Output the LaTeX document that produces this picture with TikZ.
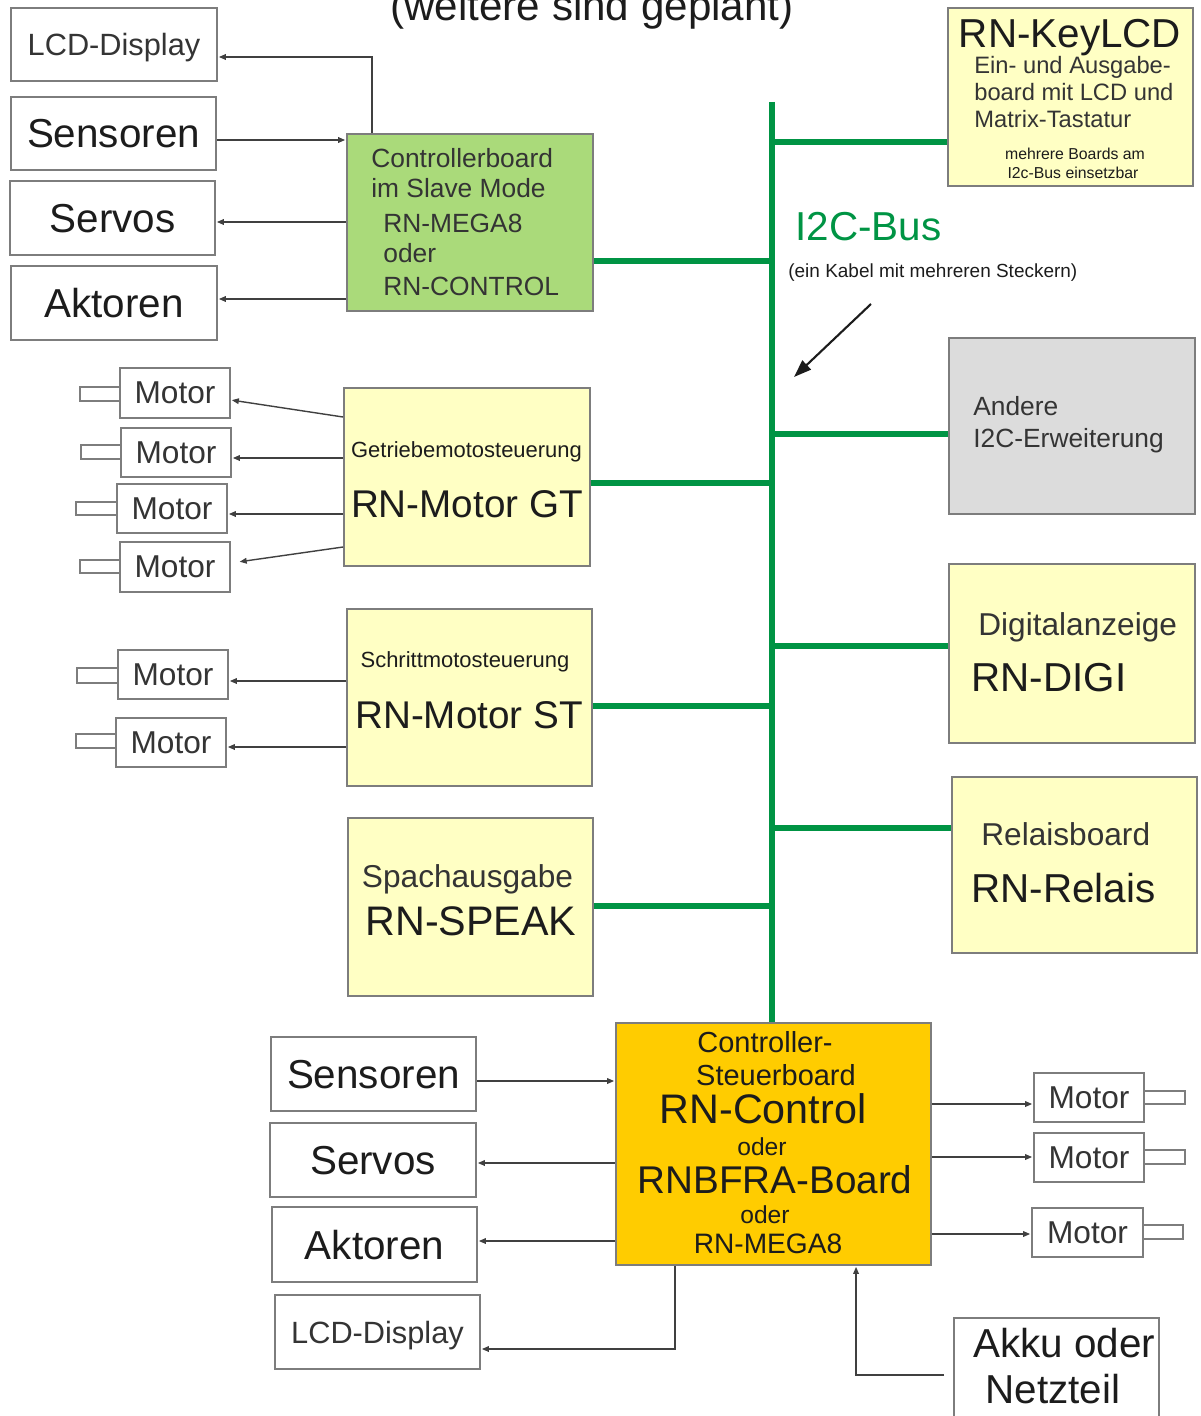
\documentclass[tikz,border=0pt]{standalone}
\usepackage{fontspec}
\setmainfont{Liberation Sans}
\usetikzlibrary{arrows.meta,calc}
\definecolor{busgreen}{RGB}{0,148,68}
\definecolor{paleyellow}{RGB}{255,255,196}
\definecolor{slavegreen}{RGB}{170,218,122}
\definecolor{panelgray}{RGB}{220,220,220}
\definecolor{ctrlyellow}{RGB}{255,204,0}
\definecolor{edgegray}{RGB}{125,125,125}
\definecolor{wiregray}{RGB}{64,64,64}
\definecolor{inkdark}{RGB}{28,28,28}
\definecolor{inksoft}{RGB}{52,52,52}
\newcommand{\fsz}[1]{\fontsize{#1}{#1}\selectfont}
\newcommand{\rbox}[7][]{\node[bx,#1,minimum width={((#4)-(#2))*0.02cm},minimum height={((#5)-(#3))*0.02cm}] (#6) at ({((#2)+(#4))/2},{((#3)+(#5))/2}) {#7};}
\begin{document}
\begin{tikzpicture}[x=0.02cm,y=-0.02cm,
  bx/.style={draw=edgegray,line width=1.1pt,inner sep=0pt,fill=white,text=inkdark,text depth=0pt},
  mot/.style={font=\fsz{18},text=inksoft},
  word/.style={font=\fsz{23}},
  busline/.style={busgreen,line width=3.2pt},
  wire/.style={wiregray,line width=0.8pt,shorten >=0.5pt,-{Triangle[length=4pt,width=3.2pt]}},
  lbl/.style={inner sep=0pt,text=inkdark},
  lblw/.style={lbl,anchor=base west},
  lblc/.style={lbl,anchor=base}]
\useasboundingbox (0,0) rectangle (1200,1416);

% title (cut off at the top)
\node[lblc,font=\fsz{24}] (title) at (592,21) {(weitere sind geplant)};

% ---- top left: slave controller ----
\rbox[font=\fsz{17.5},text=inksoft]{11}{8}{217}{81}{lcdA}{LCD-Display}
\rbox[word]{11}{97}{216}{170}{sensA}{Sensoren}
\rbox[word]{10}{181}{215}{255}{servA}{Servos}
\rbox[word]{11}{266}{217}{340}{aktA}{Aktoren}
\rbox[fill=slavegreen]{347}{134}{593}{311}{slave}{}
\node[lblw,font=\fsz{15},text=inksoft] (sl1) at (371,167) {Controllerboard};
\node[lblw,font=\fsz{15},text=inksoft] (sl2) at (371,197) {im Slave Mode};
\node[lblw,font=\fsz{15},text=inksoft] (sl3) at (383,232) {RN-MEGA8};
\node[lblw,font=\fsz{15},text=inksoft] (sl4) at (383,262) {oder};
\node[lblw,font=\fsz{15},text=inksoft] (sl5) at (383,295) {RN-CONTROL};

% ---- right column ----
\rbox[fill=paleyellow]{948}{8}{1193}{186}{keylcd}{}
\node[lblc,font=\fsz{23}] (kl0) at (1070,48) {RN-KeyLCD};
\node[lblw,font=\fsz{13.5},text=inksoft] (kl1) at (974,74) {Ein- und Ausgabe-};
\node[lblw,font=\fsz{13.5},text=inksoft] (kl2) at (974,101) {board mit LCD und};
\node[lblw,font=\fsz{13.5},text=inksoft] (kl3) at (974,128) {Matrix-Tastatur};
\node[lblc,font=\fsz{9}] (kl4) at (1075,159) {mehrere Boards am};
\node[lblc,font=\fsz{9}] (kl5) at (1073,178) {I2c-Bus einsetzbar};

\node[lblw,font=\fsz{23},text=busgreen] (buslabel) at (795,240) {I2C-Bus};
\node[lblw,font=\fsz{10.8}] (busnote) at (788,277) {(ein Kabel mit mehreren Steckern)};
\coordinate (ptrtail) at (871,304);
\coordinate (ptrhead) at (794,377);

\rbox[fill=panelgray]{949}{338}{1195}{514}{andere}{}
\node[lblw,font=\fsz{15},text=inksoft] (an1) at (973,415) {Andere};
\node[lblw,font=\fsz{15},text=inksoft] (an2) at (973,447) {I2C-Erweiterung};

\rbox[fill=paleyellow]{949}{564}{1195}{743}{digi}{}
\node[lblw,font=\fsz{18},text=inksoft] (dg1) at (978,635) {Digitalanzeige};
\node[lblw,font=\fsz{23}] (dg2) at (971,691) {RN-DIGI};

\rbox[fill=paleyellow]{952}{777}{1197}{953}{relais}{}
\node[lblw,font=\fsz{18},text=inksoft] (rl1) at (981,845) {Relaisboard};
\node[lblw,font=\fsz{23}] (rl2) at (971,902) {RN-Relais};

% ---- middle column ----
\rbox[fill=paleyellow]{344}{388}{590}{566}{gt}{}
\node[lblc,font=\fsz{12.5}] (gt1) at (466.5,457) {Getriebemotosteuerung};
\node[lblc,font=\fsz{22}] (gt2) at (467,517) {RN-Motor GT};

\rbox[fill=paleyellow]{347}{609}{592}{786}{st}{}
\node[lblc,font=\fsz{12.5}] (st1) at (465,667) {Schrittmotosteuerung};
\node[lblc,font=\fsz{22}] (st2) at (469,728) {RN-Motor ST};

\rbox[fill=paleyellow]{348}{818}{593}{996}{speak}{}
\node[lblc,font=\fsz{18},text=inksoft] (sp1) at (467.5,887) {Spachausgabe};
\node[lblc,font=\fsz{23.5}] (sp2) at (471,935) {RN-SPEAK};

% ---- left motors ----
\rbox[mot]{120}{368}{230}{418}{m1}{Motor}
\rbox{80}{387}{120}{401}{s1}{}
\rbox[mot]{121}{428}{231}{477}{m2}{Motor}
\rbox{81}{445}{121}{459}{s2}{}
\rbox[mot]{117}{484}{227}{533}{m3}{Motor}
\rbox{76}{502}{117}{515}{s3}{}
\rbox[mot]{120}{542}{230}{592}{m4}{Motor}
\rbox{80}{560}{120}{573}{s4}{}
\rbox[mot]{118}{650}{228}{699}{m5}{Motor}
\rbox{77}{668}{118}{683}{s5}{}
\rbox[mot]{116}{718}{226}{767}{m6}{Motor}
\rbox{76}{734}{116}{748}{s6}{}

% ---- main controller ----
\rbox[fill=ctrlyellow]{616}{1023}{931}{1265}{ctrl}{}
\node[lblc,font=\fsz{16.5}] (c1) at (765,1052) {Controller-};
\node[lblc,font=\fsz{16.5}] (c2) at (776,1085) {Steuerboard};
\node[lblc,font=\fsz{23.5}] (c3) at (763,1123) {RN-Control};
\node[lblc,font=\fsz{14}] (c4) at (762,1155) {oder};
\node[lblc,font=\fsz{22}] (c5) at (775,1193) {RNBFRA-Board};
\node[lblc,font=\fsz{14}] (c6) at (765,1223) {oder};
\node[lblc,font=\fsz{16}] (c7) at (768,1253) {RN-MEGA8};

\rbox[word]{271}{1037}{476}{1111}{sensB}{Sensoren}
\rbox[word]{270}{1123}{476}{1197}{servB}{Servos}
\rbox[word]{272}{1207}{477}{1282}{aktB}{Aktoren}
\rbox[font=\fsz{17.5},text=inksoft]{275}{1295}{480}{1369}{lcdB}{LCD-Display}

\rbox[mot]{1034}{1073}{1144}{1122}{motA}{Motor}
\rbox{1144}{1091}{1185}{1104}{shA}{}
\rbox[mot]{1034}{1133}{1144}{1182}{motB}{Motor}
\rbox{1144}{1150}{1185}{1164}{shB}{}
\rbox[mot]{1032}{1208}{1143}{1257}{motC}{Motor}
\rbox{1143}{1225}{1183}{1239}{shC}{}

\rbox{954}{1318}{1159}{1426}{akku}{}
\node[lblw,font=\fsz{23}] (ak1) at (973,1357) {Akku oder};
\node[lblw,font=\fsz{23}] (ak2) at (985,1403) {Netzteil};

% ---- I2C bus ----
\coordinate (bustop) at (772,102);
\draw[busline] (bustop) -- (bustop |- ctrl.north);
\draw[busline] (keylcd.west |- 0,142) -- (bustop |- 0,142);
\draw[busline] (slave.east |- 0,261) -- (bustop |- 0,261);
\draw[busline] (andere.west |- 0,434) -- (bustop |- 0,434);
\draw[busline] (gt.east |- 0,483) -- (bustop |- 0,483);
\draw[busline] (digi.west |- 0,646) -- (bustop |- 0,646);
\draw[busline] (st.east |- 0,706) -- (bustop |- 0,706);
\draw[busline] (relais.west |- 0,828) -- (bustop |- 0,828);
\draw[busline] (speak.east |- 0,906) -- (bustop |- 0,906);
\draw[inkdark,line width=1.2pt,-{Triangle[length=10pt,width=7pt]}] (ptrtail) -- (ptrhead);

% ---- wires ----
\draw[wire] ($(slave.north west)+(26,0)$) |- (lcdA.east |- 0,57);
\draw[wire] (sensA.east |- 0,140) -- (slave.west |- 0,140);
\draw[wire] (slave.west |- 0,222) -- (servA.east |- 0,222);
\draw[wire] (slave.west |- 0,299) -- (aktA.east |- 0,299);

\draw[wire] (gt.west |- 0,417) -- (m1.east |- 0,400);
\draw[wire] (gt.west |- 0,458) -- (m2.east |- 0,458);
\draw[wire] (gt.west |- 0,514) -- (m3.east |- 0,514);
\draw[wire,shorten >=5pt] (gt.west |- 0,547) -- (m4.east |- 0,563);
\draw[wire] (st.west |- 0,681) -- (m5.east |- 0,681);
\draw[wire] (st.west |- 0,747) -- (m6.east |- 0,747);

\draw[wire] (sensB.east |- 0,1081) -- (ctrl.west |- 0,1081);
\draw[wire] (ctrl.west |- 0,1163) -- (servB.east |- 0,1163);
\draw[wire] (ctrl.west |- 0,1241) -- (aktB.east |- 0,1241);
\draw[wire] ($(ctrl.south west)+(60,0)$) |- (lcdB.east |- 0,1349);

\draw[wire] (ctrl.east |- 0,1104) -- (motA.west |- 0,1104);
\draw[wire] (ctrl.east |- 0,1157) -- (motB.west |- 0,1157);
\draw[wire] (ctrl.east |- 0,1234) -- (motC.west |- 0,1234);
\draw[wire] ($(akku.west |- 0,1375)+(-9,0)$) -| ($(ctrl.south west)+(241,0)$);
\end{tikzpicture}
\end{document}
